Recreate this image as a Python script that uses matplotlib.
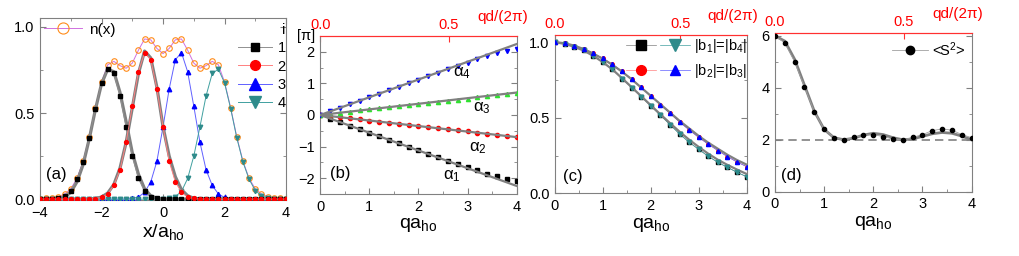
import numpy as np
import matplotlib as mpl
mpl.use('Agg')
import matplotlib.pyplot as plt
from matplotlib.ticker import MultipleLocator, FormatStrFormatter
from matplotlib.legend_handler import HandlerTuple

plt.rcParams['font.family'] = ['Liberation Sans', 'DejaVu Sans']
plt.rcParams['mathtext.fontset'] = 'custom'
plt.rcParams['mathtext.rm'] = 'Liberation Sans'
plt.rcParams['mathtext.it'] = 'Liberation Sans:italic'

#----- panel (a): densities on the x grid (-4..4, step 0.2)
x_grid = np.linspace(-4, 4, 41)
n_x = [0.002, 0.004, 0.008, 0.015, 0.03, 0.06, 0.12, 0.22, 0.36, 0.53, 0.68,
       0.78, 0.80, 0.775, 0.76, 0.79, 0.865, 0.93, 0.925, 0.875, 0.845,
       0.875, 0.925, 0.93, 0.865, 0.79, 0.76, 0.775, 0.80, 0.78, 0.68,
       0.53, 0.36, 0.22, 0.12, 0.06, 0.03, 0.015, 0.008, 0.004, 0.002]
orb1 = [0, 0.001, 0.003, 0.008, 0.02, 0.05, 0.115, 0.215, 0.355, 0.525, 0.675,
        0.755, 0.73, 0.60, 0.42, 0.25, 0.12, 0.045, 0.015, 0.005, 0.002,
        0, 0, 0, 0, 0, 0, 0, 0, 0, 0, 0, 0, 0, 0, 0, 0, 0, 0, 0, 0]
orb2 = [0, 0, 0, 0, 0, 0, 0, 0, 0, 0.003, 0.01,
        0.03, 0.08, 0.17, 0.33, 0.54, 0.74, 0.85, 0.81, 0.64, 0.42,
        0.22, 0.10, 0.04, 0.012, 0.004, 0.001, 0, 0, 0, 0,
        0, 0, 0, 0, 0, 0, 0, 0, 0, 0]
orb3 = [0, 0, 0, 0, 0, 0, 0, 0, 0, 0, 0,
        0, 0, 0, 0.001, 0.004, 0.012, 0.04, 0.10, 0.22, 0.42,
        0.64, 0.81, 0.85, 0.74, 0.54, 0.33, 0.17, 0.08, 0.03, 0.01,
        0.003, 0, 0, 0, 0, 0, 0, 0, 0, 0]
orb4 = [0, 0, 0, 0, 0, 0, 0, 0, 0, 0, 0,
        0, 0, 0, 0, 0, 0, 0, 0, 0, 0.002,
        0.005, 0.015, 0.045, 0.12, 0.25, 0.42, 0.60, 0.73, 0.755, 0.675,
        0.525, 0.355, 0.215, 0.115, 0.05, 0.02, 0.008, 0.003, 0.001, 0]
fit1 = [0, 0, 0.001, 0.004, 0.012, 0.04, 0.10, 0.20, 0.35, 0.52, 0.67,
        0.755, 0.74, 0.62, 0.45, 0.27, 0.145, 0.06, 0.02, 0.005, 0.001,
        0, 0, 0, 0, 0, 0, 0, 0, 0, 0, 0, 0, 0, 0, 0, 0, 0, 0, 0, 0]
fit2 = [0, 0, 0, 0, 0, 0, 0, 0, 0.001, 0.004, 0.012,
        0.035, 0.085, 0.18, 0.33, 0.53, 0.73, 0.86, 0.82, 0.65, 0.42,
        0.25, 0.13, 0.055, 0.02, 0.005, 0.001, 0, 0, 0, 0,
        0, 0, 0, 0, 0, 0, 0, 0, 0, 0]

#----- panels (b)-(d): q grid (0..4, step 0.2)
q_grid = np.linspace(0, 4, 21)
alpha1 = [0.0, -0.12, -0.23, -0.345, -0.455, -0.565, -0.675, -0.785, -0.895, -1.005, -1.115,
          -1.225, -1.335, -1.445, -1.55, -1.655, -1.755, -1.855, -1.945, -2.025, -2.09]
alpha2 = [0, -0.035, -0.07, -0.105, -0.14, -0.175, -0.21, -0.245, -0.28, -0.32, -0.355,
          -0.39, -0.42, -0.455, -0.49, -0.52, -0.56, -0.595, -0.63, -0.665, -0.70]
alpha3 = [0, 0.04, 0.075, 0.11, 0.145, 0.18, 0.215, 0.25, 0.28, 0.315, 0.345,
          0.38, 0.415, 0.45, 0.485, 0.52, 0.555, 0.59, 0.625, 0.655, 0.685]
alpha4 = [0.0, 0.12, 0.23, 0.345, 0.455, 0.565, 0.675, 0.785, 0.895, 1.005, 1.115,
          1.225, 1.335, 1.445, 1.555, 1.66, 1.76, 1.86, 1.95, 2.03, 2.10]
fit_q = [0, 4]
fit_alpha = {1: [0, -2.245], 2: [0, -0.70], 3: [0, 0.71], 4: [0, 2.245]}
alpha_label_pos = {1: (2.68, -1.93), 2: (3.22, -1.04), 3: (3.29, 0.23), 4: (2.88, 1.31)}

b14 = [1.0, 0.991, 0.971, 0.947, 0.912, 0.87, 0.82, 0.76, 0.70, 0.64, 0.578,
       0.517, 0.455, 0.393, 0.338, 0.291, 0.245, 0.205, 0.172, 0.139, 0.11]
b23 = [1.0, 0.993, 0.978, 0.956, 0.927, 0.894, 0.854, 0.808, 0.757, 0.702, 0.645,
       0.587, 0.53, 0.472, 0.42, 0.37, 0.325, 0.283, 0.243, 0.207, 0.177]
fit_b14 = [1.0, 0.99, 0.97, 0.945, 0.91, 0.868, 0.82, 0.762, 0.703, 0.643, 0.583,
           0.523, 0.465, 0.408, 0.355, 0.307, 0.262, 0.222, 0.188, 0.157, 0.128]
fit_b23 = [1.0, 0.994, 0.978, 0.955, 0.925, 0.89, 0.85, 0.805, 0.755, 0.70, 0.645,
           0.59, 0.535, 0.48, 0.43, 0.38, 0.335, 0.295, 0.255, 0.22, 0.19]

s2 = [6.0, 5.73, 5.0, 4.04, 3.08, 2.41, 2.08, 1.99, 2.09, 2.18, 2.2,
      2.12, 2.03, 1.99, 2.09, 2.2, 2.35, 2.42, 2.37, 2.2, 2.08]
fit_s2 = [6.0, 5.8, 5.1, 4.1, 3.1, 2.4, 2.08, 2.0, 2.06, 2.18, 2.25,
          2.2, 2.08, 2.0, 2.03, 2.13, 2.23, 2.28, 2.25, 2.14, 2.0]

d_lat = 1.2   # well spacing, for the qd/(2pi) axis

GRAY = '#808080'
RED_AX = '#ff3030'
TEAL = '#2e8b8b'
FS = 10.5

fig = plt.figure(figsize=(10.19, 2.56), dpi=100)
ax_a = fig.add_axes([0.0393, 0.2187, 0.2414, 0.7098])
ax_b = fig.add_axes([0.3143, 0.2422, 0.1927, 0.6172])
ax_c = fig.add_axes([0.5446, 0.2449, 0.1881, 0.6195])
ax_d = fig.add_axes([0.7605, 0.2512, 0.1930, 0.6188])


def style(ax):
    for s in ax.spines.values():
        s.set_color(GRAY)
    ax.tick_params(which='both', direction='in', color=GRAY, labelsize=FS,
                   right=True, top=False, pad=4)
    ax.tick_params(which='major', length=4)
    ax.tick_params(which='minor', length=2)


def top_axis(ax):
    ax.spines['top'].set_color(RED_AX)
    sec = ax.secondary_xaxis('top', functions=(lambda q: q*d_lat/(2*np.pi),
                                               lambda t: t*2*np.pi/d_lat))
    sec.spines['top'].set_color(RED_AX)
    sec.set_xticks([0.0, 0.5])
    sec.xaxis.set_major_formatter(FormatStrFormatter('%.1f'))
    sec.tick_params(direction='in', colors='red', labelsize=FS, length=4, pad=3)
    sec.tick_params(axis='x', color=RED_AX)
    ax.text(0.93, 1.12, 'qd/(2π)', transform=ax.transAxes, color='red',
            fontsize=11, ha='center', va='center')


# (a)
style(ax_a)
ax_a.tick_params(which='both', top=True)
ax_a.plot(x_grid, fit1, color=GRAY, lw=2.3, zorder=4)
ax_a.plot(x_grid, fit2, color=GRAY, lw=2.3, zorder=4)
hn, = ax_a.plot(x_grid, n_x, color='#d070e0', lw=0.7, marker='o', ms=4,
                mfc='none', mec='#ff8c1a', mew=0.8, zorder=3)
h1, = ax_a.plot(x_grid, orb1, color='#909090', lw=0.7, marker='s', ms=2.3,
                mfc='black', mec='black', zorder=5)
h2, = ax_a.plot(x_grid, orb2, color='#ff8080', lw=0.7, marker='o', ms=2.8,
                mfc='red', mec='red', zorder=5)
h3, = ax_a.plot(x_grid, orb3, color='#6060ff', lw=0.7, marker='^', ms=3.2,
                mfc='blue', mec='blue', zorder=3)
h4, = ax_a.plot(x_grid, orb4, color='#40a0a0', lw=0.7, marker='v', ms=3.2,
                mfc=TEAL, mec=TEAL, zorder=3)
ax_a.set_xlim(-4, 4)
ax_a.set_ylim(-0.005, 1.05)
ax_a.xaxis.set_major_locator(MultipleLocator(2))
ax_a.xaxis.set_minor_locator(MultipleLocator(1))
ax_a.yaxis.set_major_locator(MultipleLocator(0.5))
ax_a.yaxis.set_minor_locator(MultipleLocator(0.25))
ax_a.yaxis.set_major_formatter(FormatStrFormatter('%.1f'))
ax_a.set_xlabel(r'x/a$_\mathrm{ho}$', fontsize=14, labelpad=2)
ax_a.text(0.065, 0.138, '(a)', transform=ax_a.transAxes, fontsize=12,
          ha='center', va='center')
leg_n = ax_a.legend([hn], ['n(x)'], loc='upper left', bbox_to_anchor=(0.016, 0.975),
                    frameon=False, fontsize=11, handlelength=2.5, handletextpad=0.45,
                    borderpad=0, borderaxespad=0, markerscale=2)
ax_a.add_artist(leg_n)
ax_a.legend([h1, h2, h3, h4], ['1', '2', '3', '4'], title='i', alignment='right',
            title_fontsize=FS, loc='upper left', bbox_to_anchor=(0.805, 0.975),
            frameon=False, fontsize=FS, handlelength=2.3, handletextpad=0.4,
            labelspacing=0.3, borderpad=0, borderaxespad=0, markerscale=2.5)

# (b)
style(ax_b)
b_sets = [(1, alpha1, 's', 'black'), (2, alpha2, 'o', 'red'),
          (3, alpha3, '^', '#30e030'), (4, alpha4, 'v', 'blue')]
for k, vals, mk, col in b_sets:
    ax_b.plot(q_grid, vals, ls='none', marker=mk, ms=3, color=col, zorder=3)
    ax_b.plot(fit_q, fit_alpha[k], color=GRAY, lw=1.6, zorder=4)
    lx, ly = alpha_label_pos[k]
    ax_b.text(lx, ly, 'α$_%d$' % k, fontsize=12, ha='center', va='center')
ax_b.set_xlim(0, 4)
ax_b.set_ylim(-2.5, 2.5)
ax_b.xaxis.set_major_locator(MultipleLocator(1))
ax_b.xaxis.set_minor_locator(MultipleLocator(0.5))
ax_b.yaxis.set_major_locator(MultipleLocator(1))
ax_b.yaxis.set_minor_locator(MultipleLocator(0.5))
ax_b.set_xlabel(r'qa$_\mathrm{ho}$', fontsize=14, labelpad=2)
ax_b.text(-0.073, 1.0, '[π]', transform=ax_b.transAxes, fontsize=FS,
          ha='center', va='center')
ax_b.text(0.10, 0.13, '(b)', transform=ax_b.transAxes, fontsize=12,
          ha='center', va='center')
top_axis(ax_b)

# (c)
style(ax_c)
c1, = ax_c.plot(q_grid, b14, color=GRAY, lw=0.5, marker='s', ms=2.5,
                mfc='black', mec='black', zorder=2)
c4, = ax_c.plot(q_grid, b14, color='#40a0a0', lw=0.5, marker='v', ms=3,
                mfc=TEAL, mec=TEAL, zorder=2)
c2, = ax_c.plot(q_grid, b23, color='#ff8080', lw=0.5, marker='o', ms=2.5,
                mfc='red', mec='red', zorder=2)
c3, = ax_c.plot(q_grid, b23, color='#6060ff', lw=0.5, marker='^', ms=2.8,
                mfc='blue', mec='blue', zorder=2)
ax_c.plot(q_grid, fit_b14, color=GRAY, lw=1.6, zorder=3)
ax_c.plot(q_grid, fit_b23, color=GRAY, lw=1.6, zorder=3)
ax_c.plot(q_grid, b14, ls='none', marker='v', ms=3, color=TEAL, zorder=4)
ax_c.plot(q_grid, b23, ls='none', marker='^', ms=2.8, color='blue', zorder=4)
ax_c.set_xlim(0, 4)
ax_c.set_ylim(0, 1.05)
ax_c.xaxis.set_major_locator(MultipleLocator(1))
ax_c.xaxis.set_minor_locator(MultipleLocator(0.5))
ax_c.yaxis.set_major_locator(MultipleLocator(0.5))
ax_c.yaxis.set_minor_locator(MultipleLocator(0.25))
ax_c.yaxis.set_major_formatter(FormatStrFormatter('%.1f'))
ax_c.set_xlabel(r'qa$_\mathrm{ho}$', fontsize=14, labelpad=2)
ax_c.text(0.094, 0.106, '(c)', transform=ax_c.transAxes, fontsize=12,
          ha='center', va='center')
ax_c.legend([(c1, c4), (c2, c3)], [r'|b$_1$|=|b$_4$|', r'|b$_2$|=|b$_3$|'],
            handler_map={tuple: HandlerTuple(ndivide=None, pad=0.3)},
            loc='upper left', bbox_to_anchor=(0.37, 0.985), frameon=False,
            fontsize=FS, handlelength=4.4, handletextpad=0.3, labelspacing=0.45,
            borderpad=0, borderaxespad=0, markerscale=2.8)
top_axis(ax_c)

# (d)
style(ax_d)
ax_d.axhline(2, color=GRAY, lw=1.2, ls=(0, (5, 3)), zorder=1)
ax_d.plot(q_grid, fit_s2, color=GRAY, lw=2, zorder=2)
hs, = ax_d.plot(q_grid, s2, color='#a0a0a0', lw=0.6, marker='o', ms=3,
                mfc='black', mec='black', zorder=3)
ax_d.set_xlim(0, 4)
ax_d.set_ylim(0, 6.1)
ax_d.xaxis.set_major_locator(MultipleLocator(1))
ax_d.xaxis.set_minor_locator(MultipleLocator(0.5))
ax_d.yaxis.set_major_locator(MultipleLocator(2))
ax_d.yaxis.set_minor_locator(MultipleLocator(1))
ax_d.set_xlabel(r'qa$_\mathrm{ho}$', fontsize=14, labelpad=2)
ax_d.text(0.084, 0.10, '(d)', transform=ax_d.transAxes, fontsize=12,
          ha='center', va='center')
ax_d.legend([hs], [r'<S$^2$>'], loc='upper left', bbox_to_anchor=(0.595, 0.958),
            frameon=False, fontsize=FS, handlelength=2.45, handletextpad=0.3,
            borderpad=0, borderaxespad=0, markerscale=2)
top_axis(ax_d)

fig.savefig('out.png', dpi=100)
